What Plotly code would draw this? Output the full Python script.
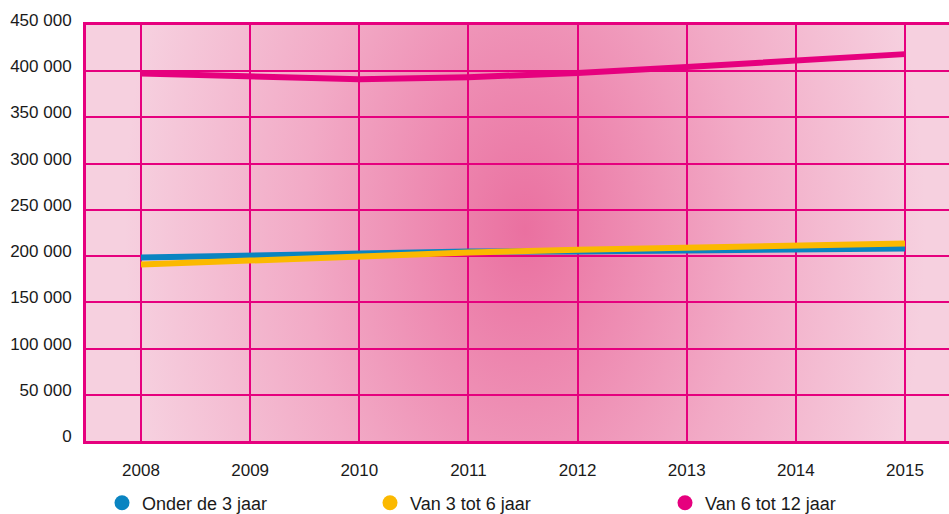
import base64
import plotly.graph_objects as go

years = [2008, 2009, 2010, 2011, 2012, 2013, 2014, 2015]
onder_3 = [198400, 200600, 202800, 205000, 205000, 206000, 207000, 208200]
van_3_6 = [190800, 195200, 200600, 203900, 207000, 209300, 211400, 213600]
van_6_12 = [397500, 394500, 391400, 393600, 398000, 404500, 411000, 418500]

names = ["Onder de 3 jaar", "Van 3 tot 6 jaar", "Van 6 tot 12 jaar"]
series = [onder_3, van_3_6, van_6_12]
colors = ["#0a84c1", "#fbb900", "#e6007e"]

y_ticks = [0, 50000, 100000, 150000, 200000, 250000, 300000, 350000, 400000, 450000]

FONT = "Liberation Sans, Arial, sans-serif"
FS = 17
GRID = "#e6007e"

svg = (
    '<svg xmlns="http://www.w3.org/2000/svg" width="863" height="415" '
    'viewBox="0 0 863 415" preserveAspectRatio="none">'
    '<defs><radialGradient id="g" gradientUnits="userSpaceOnUse" cx="439" cy="204" r="400" '
    'gradientTransform="translate(439,204) scale(1,1.6) translate(-439,-204)">'
    '<stop offset="0" stop-color="#ea70a0"/>'
    '<stop offset="0.55" stop-color="#f2aac6"/>'
    '<stop offset="1" stop-color="#f6d0df"/>'
    '</radialGradient></defs>'
    '<rect x="0" y="0" width="863" height="415" fill="url(#g)"/></svg>'
)
src = "data:image/svg+xml;base64," + base64.b64encode(svg.encode()).decode()

fig = go.Figure()

for name, vals, col in zip(names, series, colors):
    fig.add_trace(go.Scatter(
        x=years, y=vals, mode="lines", name=name,
        line=dict(color=col, width=6), showlegend=False, hoverinfo="skip",
    ))

legend_ids = ["legend", "legend2", "legend3"]
legend_x = [102, 370, 665]
for name, col, lid in zip(names, colors, legend_ids):
    fig.add_trace(go.Scatter(
        x=[None], y=[None], mode="markers", name=name,
        marker=dict(color=col, size=15, symbol="circle"),
        showlegend=True, legend=lid,
    ))

legend_common = dict(
    orientation="h", xref="container", yref="container",
    yanchor="middle", xanchor="left", y=(514 - 503) / 514,
    font=dict(family=FONT, size=FS + 1, color="#1a1a1a"),
    bgcolor="rgba(0,0,0,0)", borderwidth=0, itemwidth=30,
)

fig.update_layout(
    width=949, height=514,
    margin=dict(l=86, r=0, t=25, b=73, autoexpand=False),
    paper_bgcolor="white",
    plot_bgcolor="rgba(0,0,0,0)",
    separators=", ",
    font=dict(family=FONT, size=FS, color="#1a1a1a"),
    legend=dict(x=legend_x[0] / 949, **legend_common),
    legend2=dict(x=legend_x[1] / 949, **legend_common),
    legend3=dict(x=legend_x[2] / 949, **legend_common),
    images=[dict(
        source=src, xref="x domain", yref="y domain", x=0, y=1,
        sizex=1, sizey=1, xanchor="left", yanchor="top",
        sizing="stretch", layer="below",
    )],
    xaxis=dict(
        range=[2007.496, 2015.403], automargin=False,
        tickvals=years, ticktext=[str(y) for y in years],
        showgrid=True, gridcolor=GRID, gridwidth=2,
        showline=True, linecolor=GRID, linewidth=3, mirror=True,
        ticks="", ticklabelstandoff=12, zeroline=False,
        tickfont=dict(family=FONT, size=FS, color="#1a1a1a"),
    ),
    yaxis=dict(
        range=[0, 450000], automargin=False,
        tickvals=y_ticks, tickformat=",",
        showgrid=True, gridcolor=GRID, gridwidth=2,
        showline=True, linecolor=GRID, linewidth=3, mirror=False,
        ticks="", ticklabelstandoff=8, ticklabelshift=-5, zeroline=False,
        tickfont=dict(family=FONT, size=FS, color="#1a1a1a"),
    ),
)

fig.write_html(
    "out.html",
    config={"displayModeBar": False},
    post_script="document.body.style.margin='0';document.body.style.overflow='hidden';",
)
